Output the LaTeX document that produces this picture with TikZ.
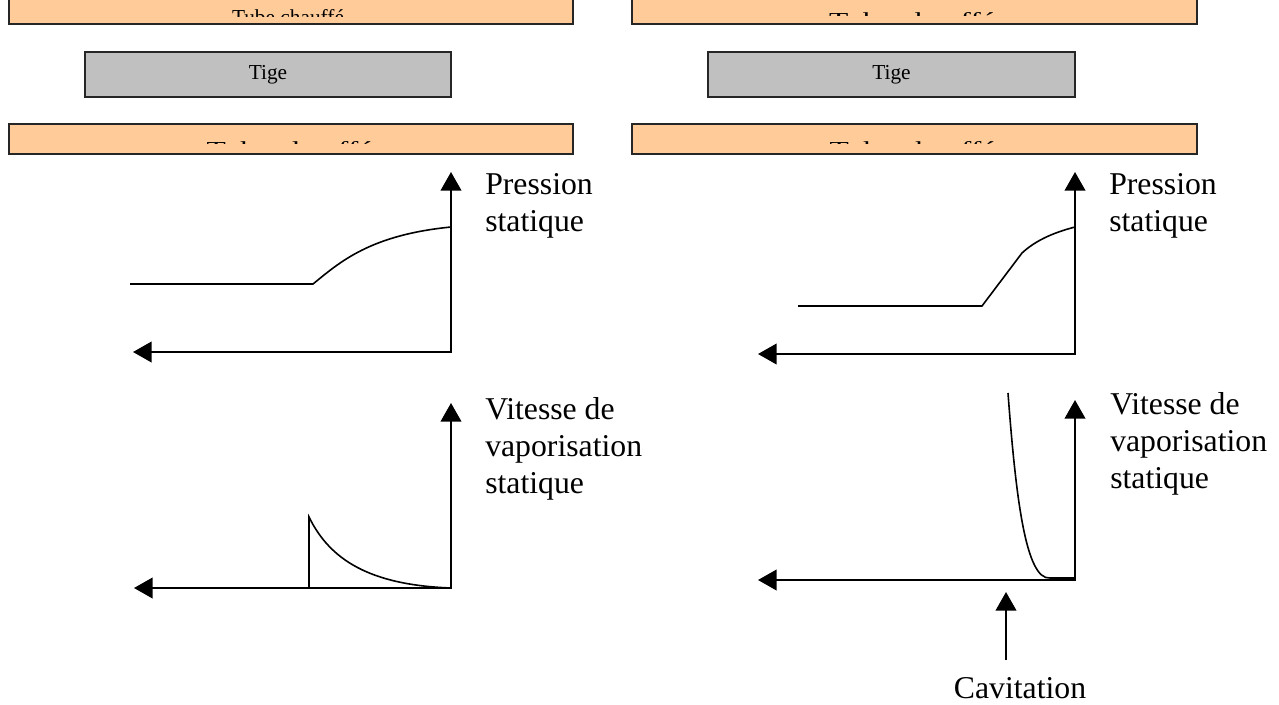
\documentclass[tikz,border=0pt]{standalone}
\usepackage{fontspec}
\setmainfont{Liberation Serif}
\usetikzlibrary{arrows.meta}
\definecolor{tubefill}{HTML}{FFCC99}
\definecolor{tigefill}{HTML}{C0C0C0}
\tikzset{
  tube/.style={draw=black!85, line width=1.5pt, fill=tubefill, inner sep=0pt},
  tige/.style={draw=black!85, line width=1.5pt, fill=tigefill, inner sep=0pt, font=\fontsize{16pt}{19pt}\selectfont},
  axis/.style={line width=1.5pt, {Triangle[length=14pt,width=15.5pt]}-{Triangle[length=14pt,width=15.5pt]}},
  pointer/.style={line width=1.5pt, -{Triangle[length=14pt,width=15.5pt]}},
  curve/.style={line width=1.2pt},
  lbl/.style={font=\fontsize{23.8pt}{27.5pt}\selectfont, anchor=base west, inner sep=0pt, align=left},
  boxtxt/.style={font=\fontsize{16pt}{19pt}\selectfont, inner sep=0pt, anchor=base},
}
\begin{document}
\begin{tikzpicture}[x=0.75pt,y=-0.75pt]
\useasboundingbox (0,0) rectangle (1279,704);
% tubes and rods
\node[tube, minimum width=423pt, minimum height=25.5pt] (tubeTL) at (291,7) {};
\node[tube, minimum width=423.75pt, minimum height=25.5pt] (tubeTR) at (914.5,7) {};
\node[tube, minimum width=423pt, minimum height=22.5pt] (tubeBL) at (291,139) {};
\node[tube, minimum width=423.75pt, minimum height=22.5pt] (tubeBR) at (914.5,139) {};
\node[tige, minimum width=274.5pt, minimum height=33.75pt] (tigeL) at (268,74.5) {Tige};
\node[tige, minimum width=275.25pt, minimum height=33.75pt] (tigeR) at (891.5,74.5) {Tige};
% clipped tube labels
\begin{scope}
  \clip (9,0) rectangle (573,16.5);
  \node[boxtxt] (tTL) at (288,24) {Tube chauffé};
\end{scope}
\begin{scope}
  \clip (632,0) rectangle (1197,15.5);
  \node[boxtxt] (tTR) at (912,27) {\scalebox{1.48}[1]{Tube chauffé}};
\end{scope}
\begin{scope}
  \clip (9,124) rectangle (573,143.5);
  \node[boxtxt] (tBL) at (289.5,156) {\scalebox{1.48}[1]{Tube chauffé}};
\end{scope}
\begin{scope}
  \clip (632,124) rectangle (1197,143.5);
  \node[boxtxt] (tBR) at (912.5,156) {\scalebox{1.48}[1]{Tube chauffé}};
\end{scope}
% left pressure graph
\coordinate (oP1) at (451,352);
\coordinate (yP1) at (451,172);
\coordinate (xP1) at (133,352);
\draw[axis] (xP1) -- (oP1) -- (yP1);
\draw[curve] (130,284) -- (313,284) .. controls (340,262) and (370,235) .. (451,227);
\node[lbl] (lP1) at (485,231) {Pression\\statique};
% right pressure graph
\coordinate (oP2) at (1075,354);
\coordinate (yP2) at (1075,172);
\coordinate (xP2) at (758,354);
\draw[axis] (xP2) -- (oP2) -- (yP2);
\draw[curve] (798,306) -- (982,306) -- (1022,253) .. controls (1035,241) and (1052,233) .. (1075,227);
\node[lbl] (lP2) at (1109,231) {Pression\\statique};
% left vaporisation graph
\coordinate (oV1) at (451,588);
\coordinate (yV1) at (451,403);
\coordinate (xV1) at (134,588);
\draw[axis] (xV1) -- (oV1) -- (yV1);
\draw[curve] (212,588) -- (309,588) -- (309,517) .. controls (330,560) and (370,585) .. (451,588);
\node[lbl] (lV1) at (485,493) {Vitesse de\\vaporisation\\statique};
% right vaporisation graph
\coordinate (oV2) at (1075,580);
\coordinate (yV2) at (1075,400);
\coordinate (xV2) at (758,580);
\draw[axis] (xV2) -- (oV2) -- (yV2);
\draw[curve] (1008,393) .. controls (1016,500) and (1026,580) .. (1050,578) -- (1075,578);
\node[lbl] (lV2) at (1110,488) {Vitesse de\\vaporisation\\statique};
% cavitation
\node[lbl, anchor=base] (cav) at (1020,698) {Cavitation};
\coordinate (cavS) at (1006,660);
\coordinate (cavT) at (1006,592);
\draw[pointer] (cavS) -- (cavT);
\end{tikzpicture}
\end{document}
